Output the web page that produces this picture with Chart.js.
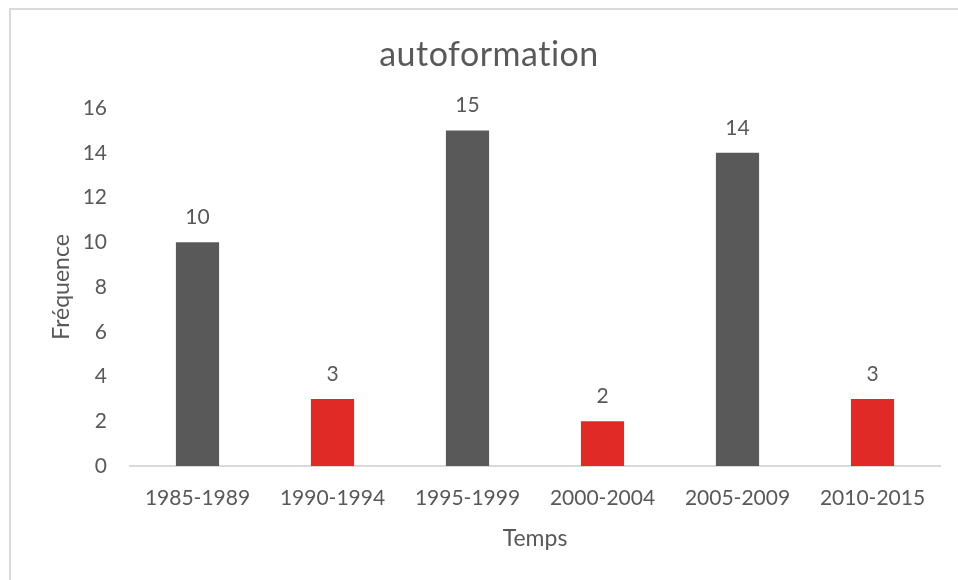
<!DOCTYPE html>
<html>
<head>
<meta charset="utf-8">
<title>autoformation</title>
<script src="https://cdn.jsdelivr.net/npm/chart.js@4.4.1/dist/chart.umd.min.js"></script>
<style>
  html, body { margin: 0; padding: 0; background: #fff; overflow: hidden; }
  #frame { position: absolute; left: 9px; top: 8px; width: 990px; height: 620px; border: 2px solid #d9d9d9; box-sizing: border-box; }
  #chart { position: absolute; left: 0; top: 0; }
</style>
</head>
<body>
<div id="frame"></div>
<canvas id="chart" width="958" height="580"></canvas>
<script>
// data
const categories = ["1985-1989", "1990-1994", "1995-1999", "2000-2004", "2005-2009", "2010-2015"];
const frequencies = [10, 3, 15, 2, 14, 3];
const barColors = ["#595959", "#E02A25", "#595959", "#E02A25", "#595959", "#E02A25"];
const yTicks = [0, 2, 4, 6, 8, 10, 12, 14, 16];

const textColor = "#595959";
const fontFamily = "Lato, 'Open Sans', sans-serif";

// title + value labels drawn by hand
const labelsPlugin = {
  id: "labelsPlugin",
  afterDatasetsDraw(chart) {
    const ctx = chart.ctx;
    ctx.save();
    ctx.fillStyle = textColor;
    ctx.textAlign = "center";
    ctx.textBaseline = "middle";
    ctx.font = "21px " + fontFamily;
    chart.getDatasetMeta(0).data.forEach((bar, i) => {
      ctx.fillText(String(frequencies[i]), bar.x, bar.y - 25);
    });
    ctx.font = "34px " + fontFamily;
    ctx.letterSpacing = "0.5px"; // also stops the "ti" ligature
    ctx.fillText("autoformation", 489, 55);
    ctx.restore();
  }
};

new Chart(document.getElementById("chart"), {
  type: "bar",
  data: {
    labels: categories,
    datasets: [{
      label: "Fréquence",
      data: frequencies,
      backgroundColor: barColors,
      categoryPercentage: 1,
      barPercentage: 0.32
    }]
  },
  options: {
    responsive: false,
    animation: false,
    layout: { padding: { left: 0, right: 18, top: 108, bottom: 0 } },
    plugins: {
      legend: { display: false },
      tooltip: { enabled: false }
    },
    scales: {
      x: {
        grid: { display: false, drawTicks: false },
        border: { display: true, color: "#d9d9d9", width: 2 },
        ticks: { color: textColor, font: { family: fontFamily, size: 21 }, padding: 20, maxRotation: 0 },
        title: { display: true, text: "Temps", color: textColor, font: { family: fontFamily, size: 23 }, padding: { top: 0, bottom: 28 } },
        afterFit(scale) { scale.height = 114; }
      },
      y: {
        min: 0,
        max: 16,
        grid: { display: false, drawTicks: false },
        border: { display: false },
        afterBuildTicks(scale) { scale.ticks = yTicks.map(v => ({ value: v })); },
        ticks: { color: textColor, font: { family: fontFamily, size: 21 }, padding: 23 },
        title: { display: true, text: "Fréquence", color: textColor, font: { family: fontFamily, size: 23 }, padding: { top: 48, bottom: 0 } },
        afterFit(scale) { scale.width = 130; }
      }
    }
  },
  plugins: [labelsPlugin]
});
</script>
</body>
</html>
